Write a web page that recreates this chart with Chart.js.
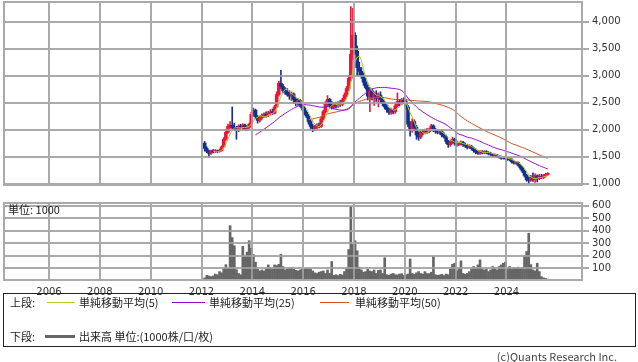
<!DOCTYPE html>
<html lang="ja">
<head>
<meta charset="UTF-8">
<title>株価チャート</title>
<script src="https://cdn.jsdelivr.net/npm/chart.js@4.4.1/dist/chart.umd.min.js"></script>
<style>
  body { margin:0; background:#fff; width:638px; height:362px; position:relative; overflow:hidden;
         font-family:"Noto Sans CJK JP","DejaVu Sans",sans-serif; color:#222; }
  #price { position:absolute; left:0; top:0; }
  #vol { position:absolute; left:0; top:195px; }
  .t { position:absolute; font-size:11px; line-height:14px; white-space:nowrap; }
  .ln { position:absolute; height:1px; }
  #legend { position:absolute; left:3px; top:293px; width:631px; height:52px; border:1px solid #222; }
</style>
</head>
<body>
<canvas id="price" width="638" height="187"></canvas>
<canvas id="vol" width="638" height="100"></canvas>
<div class="t" style="left:8px;top:202px;">単位: 1000</div>

<div id="legend"></div>
<div class="t" style="left:10px;top:295px;">上段:</div>
<div class="ln" style="left:47px;top:302px;width:28px;background:#b4cc2a;"></div>
<div class="t" style="left:79px;top:295px;">単純移動平均(5)</div>
<div class="ln" style="left:172px;top:302px;width:33px;background:#9010c8;"></div>
<div class="t" style="left:209px;top:295px;">単純移動平均(25)</div>
<div class="ln" style="left:320px;top:302px;width:29px;background:#d4501e;"></div>
<div class="t" style="left:355px;top:295px;">単純移動平均(50)</div>
<div class="t" style="left:10px;top:329px;">下段:</div>
<div class="ln" style="left:45px;top:335px;width:30px;height:3px;background:#666;"></div>
<div class="t" style="left:79px;top:329px;">出来高 単位:(1000株/口/枚)</div>
<div class="t" style="right:21px;top:349px;color:#444;">(c)Quants Research Inc.</div>

<script>
// 月足 2012年2月〜2025年8月
const startYear = 2012, startMonth = 2;

const opens = [
  1750,1650,1600,1560,1600,1590,1600,1590,1610,1680,1820,
  1950,2060,2080,2040,2010,1980,2060,2050,2080,2010,2040,2100,
  2280,2360,2240,2170,2220,2260,2280,2270,2310,2330,2300,2420,
  2650,2860,2800,2720,2700,2650,2620,2660,2560,2510,2540,2460,
  2400,2320,2250,2150,2060,2020,2050,2080,2060,2200,2330,2480,
  2560,2450,2420,2470,2440,2490,2470,2550,2640,2760,2950,3400,
  3750,3450,3150,3080,3000,2880,2780,2620,2720,2600,2660,2580,
  2640,2560,2480,2420,2370,2320,2360,2330,2440,2520,2480,2550,
  2520,2420,2100,1980,2150,2040,1900,1860,1960,1940,1990,1960,
  2000,2070,1990,1970,1950,1960,1900,1870,1780,1720,1770,1820,
  1750,1720,1750,1760,1720,1700,1670,1690,1650,1610,1580,1560,
  1590,1570,1590,1570,1550,1540,1520,1530,1500,1490,1470,1480,
  1460,1450,1440,1400,1380,1390,1340,1290,1230,1150,1070,1060,
  1120,1080,1140,1090,1130,1110,1150,1170
];
const highs = [
  1780,1680,1620,1620,1630,1630,1620,1640,1700,1850,2000,
  2100,2150,2420,2120,2060,2090,2100,2110,2100,2060,2120,2320,
  2400,2380,2260,2250,2290,2310,2330,2340,2370,2380,2450,2700,
  2900,3100,2840,2780,2760,2720,2700,2680,2600,2580,2560,2500,
  2430,2350,2280,2180,2100,2080,2110,2120,2230,2360,2520,2630,
  2580,2520,2500,2510,2520,2540,2580,2680,2800,3000,4280,4250,
  3800,3550,3250,3150,3050,2950,2830,2780,2760,2700,2720,2680,
  2700,2600,2520,2460,2400,2400,2380,2480,2680,2560,2580,2590,
  2560,2450,2150,2200,2180,2080,1960,1990,2000,2010,2020,2030,
  2100,2090,2020,2000,1990,1990,1940,1900,1800,1800,1860,1840,
  1790,1770,1790,1780,1750,1730,1720,1710,1670,1640,1600,1610,
  1610,1610,1610,1590,1580,1560,1550,1540,1520,1510,1500,1500,
  1480,1470,1460,1420,1410,1400,1360,1320,1250,1170,1120,1150,
  1200,1180,1160,1170,1170,1170,1190,1200
];
const lows = [
  1600,1570,1490,1540,1570,1570,1570,1580,1600,1670,1800,
  1930,2020,2000,1990,1820,1960,2020,2000,1990,1980,2020,2080,
  2250,2200,2120,2140,2190,2220,2230,2240,2270,2280,2290,2400,
  2620,2760,2680,2650,2620,2560,2540,2480,2440,2450,2420,2360,
  2280,2220,2100,2020,1960,1980,2010,2030,2040,2180,2300,2430,
  2400,2380,2380,2400,2410,2430,2440,2520,2600,2720,2900,3300,
  3400,3000,3000,2950,2820,2750,2550,2330,2550,2450,2520,2420,
  2500,2440,2380,2320,2280,2280,2290,2300,2420,2440,2460,2480,
  2380,2050,1880,1950,1980,1820,1800,1830,1900,1920,1930,1940,
  1980,1960,1930,1920,1910,1860,1840,1740,1670,1690,1740,1710,
  1690,1700,1710,1690,1670,1640,1650,1620,1580,1550,1540,1540,
  1550,1550,1550,1530,1520,1500,1490,1480,1470,1450,1450,1440,
  1430,1420,1380,1360,1360,1320,1260,1200,1120,1040,1000,1040,
  1040,1020,1030,1070,1090,1090,1120,1150
];
const closes = [
  1650,1600,1560,1600,1590,1600,1590,1610,1680,1820,1950,
  2060,2080,2040,2010,1980,2060,2050,2080,2010,2040,2100,2280,
  2360,2240,2170,2220,2260,2280,2270,2310,2330,2300,2420,2650,
  2860,2800,2720,2700,2650,2620,2660,2560,2510,2540,2460,2400,
  2320,2250,2150,2060,2020,2050,2080,2060,2200,2330,2480,2560,
  2450,2420,2470,2440,2490,2470,2550,2640,2760,2950,3400,3750,
  3450,3150,3080,3000,2880,2780,2620,2720,2600,2660,2580,2640,
  2560,2480,2420,2370,2320,2360,2330,2440,2520,2480,2550,2520,
  2420,2100,1980,2150,2040,1900,1860,1960,1940,1990,1960,2000,
  2070,1990,1970,1950,1960,1900,1870,1780,1720,1770,1820,1750,
  1720,1750,1760,1720,1700,1670,1690,1650,1610,1580,1560,1590,
  1570,1590,1570,1550,1540,1520,1530,1500,1490,1470,1480,1460,
  1450,1440,1400,1380,1390,1340,1290,1230,1150,1070,1060,1120,
  1080,1140,1090,1130,1110,1150,1170,1185
];
// 出来高（千株）
const volumes = [
  25,45,40,35,40,55,50,75,65,100,130,
  100,440,345,280,90,60,50,275,200,230,320,260,
  210,150,93,80,88,80,96,128,100,95,128,123,
  133,213,115,88,93,100,107,93,85,80,88,93,
  93,100,96,96,80,65,60,70,75,80,60,88,
  60,155,45,50,43,53,48,75,100,250,590,290,
  320,240,110,88,70,75,93,80,75,88,60,85,
  88,60,185,50,45,55,60,50,48,55,58,45,
  50,55,175,60,53,65,75,60,55,75,60,58,
  70,195,50,45,48,53,43,55,50,96,133,141,
  80,101,160,60,53,60,75,96,115,101,128,168,
  101,88,96,75,88,115,107,88,115,128,141,150,
  101,115,96,107,100,110,100,107,195,235,380,130,
  88,80,141,75,35,25,20,15
];

const yearTicks = [2006, 2008, 2010, 2012, 2014, 2016, 2018, 2020, 2022, 2024];
const priceTicks = [1000, 1500, 2000, 2500, 3000, 3500, 4000];
const volumeTicks = [100, 200, 300, 400, 500, 600];

const xMin = 2004.19, xMax = 2027.01;
const upColor = '#e8173c', downColor = '#12318f';
const gridColor = '#aaaaaa';

function monthX(i) { return startYear + (startMonth - 1 + i + 0.5) / 12; }

function sma(src, n) {
  const out = [];
  for (let i = n - 1; i < src.length; i++) {
    let s = 0;
    for (let k = i - n + 1; k <= i; k++) s += src[k];
    out.push({ x: monthX(i), y: s / n });
  }
  return out;
}

const candleColors = closes.map((c, i) => c >= opens[i] ? upColor : downColor);

// グリッドと枠はデータの後にもう一度描く
const frame = {
  id: 'frame',
  afterDatasetsDraw(chart) {
    const a = chart.chartArea, ctx = chart.ctx;
    ctx.save();
    ctx.globalAlpha = 0.75;
    Object.values(chart.scales).forEach(s => { s._gridLineItems = null; s.drawGrid(a); });
    ctx.globalAlpha = 1;
    ctx.strokeStyle = gridColor;
    ctx.lineWidth = 2;
    ctx.strokeRect(a.left + 1, a.top + 1, a.right - a.left - 2, a.bottom - a.top - 2);
    ctx.restore();
  }
};

Chart.defaults.font.family = 'DejaVu Sans';
Chart.defaults.font.size = 10;
Chart.defaults.color = '#333';

function xScale(showLabels) {
  return {
    type: 'linear', min: xMin, max: xMax, offset: false,
    afterBuildTicks: s => { s.ticks = yearTicks.map(v => ({ value: v })); },
    afterFit: s => { s.height = showLabels ? 14 : 0; s.paddingLeft = 0; s.paddingRight = 0; },
    grid: { color: gridColor, lineWidth: 2, drawTicks: false, offset: false },
    border: { display: false },
    ticks: { display: showLabels, padding: 5, maxRotation: 0, autoSkip: false,
             callback: v => String(v) }
  };
}

function yScale(min, max, ticks, fmt) {
  return {
    position: 'right', min: min, max: max,
    afterBuildTicks: s => { s.ticks = ticks.map(v => ({ value: v })); },
    afterFit: s => { s.width = 55; s.paddingTop = 0; s.paddingBottom = 0; },
    grid: { color: gridColor, lineWidth: 2, tickLength: 6 },
    border: { display: false },
    ticks: { padding: 3, autoSkip: false, callback: fmt }
  };
}

new Chart(document.getElementById('price'), {
  type: 'bar',
  data: {
    datasets: [
      { type: 'line', data: sma(closes, 5), borderColor: '#b4cc2a', borderWidth: 1, pointRadius: 0, order: 1 },
      { type: 'line', data: sma(closes, 25), borderColor: '#9010c8', borderWidth: 1, pointRadius: 0, order: 1 },
      { type: 'line', data: sma(closes, 50), borderColor: '#d4501e', borderWidth: 1, pointRadius: 0, order: 1 },
      { data: closes.map((c, i) => ({ x: monthX(i), y: [opens[i], c] })),
        backgroundColor: candleColors, barThickness: 3, grouped: false, minBarLength: 1, order: 2 },
      { data: closes.map((c, i) => ({ x: monthX(i), y: [lows[i], highs[i]] })),
        backgroundColor: candleColors, barThickness: 1, grouped: false, order: 3 }
    ]
  },
  options: {
    responsive: false, animation: false, devicePixelRatio: 1,
    layout: { padding: { left: 3, top: 1, right: 0, bottom: 1 } },
    plugins: { legend: { display: false }, tooltip: { enabled: false } },
    scales: {
      x: xScale(false),
      y: yScale(954, 4384, priceTicks, v => v.toLocaleString('en-US'))
    }
  },
  plugins: [frame]
});

new Chart(document.getElementById('vol'), {
  type: 'bar',
  data: {
    datasets: [
      { data: volumes.map((v, i) => ({ x: monthX(i), y: v })),
        backgroundColor: '#666', barThickness: 2, grouped: false }
    ]
  },
  options: {
    responsive: false, animation: false, devicePixelRatio: 1,
    layout: { padding: { left: 3, top: 7, right: 0, bottom: 0 } },
    plugins: { legend: { display: false }, tooltip: { enabled: false } },
    scales: {
      x: xScale(true),
      y: yScale(0, 628, volumeTicks, v => String(v))
    }
  },
  plugins: [frame]
});
</script>
</body>
</html>
